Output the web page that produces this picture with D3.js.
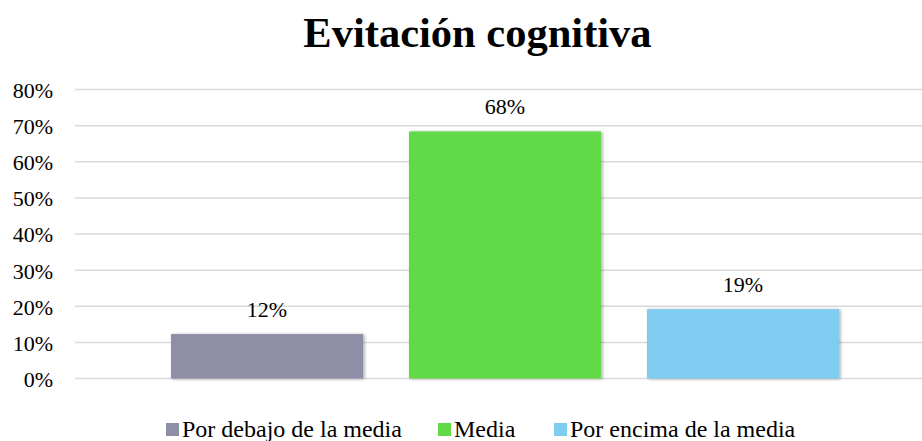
<!DOCTYPE html>
<html>
<head>
<meta charset="utf-8">
<script src="https://cdn.jsdelivr.net/npm/d3@7"></script>
<style>
  html, body { margin: 0; padding: 0; background: #fff; }
  svg { display: block; }
  text { font-family: "Liberation Serif", "Times New Roman", serif; fill: #000; }
</style>
</head>
<body>
<script>
const title = "Evitación cognitiva";
const categories = ["Por debajo de la media", "Media", "Por encima de la media"];
const values = [0.123, 0.684, 0.192];
const colors = ["#8E8EA6", "#62DA47", "#7ECDF1"];
const yTicks = [0, 0.1, 0.2, 0.3, 0.4, 0.5, 0.6, 0.7, 0.8];

const W = 922, H = 441;
const svg = d3.select("body").append("svg").attr("width", W).attr("height", H);

const defs = svg.append("defs");
const f = defs.append("filter").attr("id", "shadow").attr("x", "-10%").attr("y", "-10%").attr("width", "130%").attr("height", "130%");
f.append("feDropShadow").attr("dx", 1.5).attr("dy", 0.5).attr("stdDeviation", 1.5).attr("flood-color", "#000").attr("flood-opacity", 0.35);

const y = d3.scaleLinear().domain([0, 0.8]).range([378.5, 89.5]);
const x = d3.scaleBand().domain(categories).range([148, 862]).paddingInner(0.193).paddingOuter(0.0966);

// title
svg.append("text").attr("x", 477.5).attr("y", 47).attr("text-anchor", "middle")
  .style("font-size", "42.5px").style("font-weight", "bold").text(title);

// y axis labels
const yAxis = d3.axisLeft(y).tickValues(yTicks).tickSize(0).tickPadding(0).tickFormat(d3.format(".0%"));
const gAxis = svg.append("g").attr("transform", "translate(53,0)").call(yAxis)
  .attr("font-family", null).attr("font-size", null);
gAxis.select(".domain").remove();
gAxis.selectAll("text").style("font-size", "22px").attr("dy", "0.36em").attr("x", 0)
  .style("font-family", "'Liberation Serif', serif").attr("fill", "#000");

// gridlines
svg.append("g").selectAll("line").data(yTicks).join("line")
  .attr("x1", 75).attr("x2", W)
  .attr("y1", d => y(d)).attr("y2", d => y(d))
  .attr("stroke", "#D9D9D9").attr("stroke-width", 1.5);

// bars
svg.append("g").selectAll("rect").data(values).join("rect")
  .attr("x", (d, i) => x(categories[i]))
  .attr("width", x.bandwidth())
  .attr("y", d => y(d))
  .attr("height", d => y(0) - y(d))
  .attr("fill", (d, i) => colors[i])
  .attr("filter", "url(#shadow)");

// labels
svg.append("g").selectAll("text").data(values).join("text")
  .attr("x", (d, i) => x(categories[i]) + x.bandwidth() / 2)
  .attr("y", d => y(d) - 17)
  .attr("text-anchor", "middle")
  .style("font-size", "22px")
  .text(d => d3.format(".0%")(d));

// legend
const legendX = [166, 438, 554];
const lg = svg.append("g").selectAll("g").data(categories).join("g")
  .attr("transform", (d, i) => `translate(${legendX[i]},0)`);
lg.append("rect").attr("x", 0).attr("y", 423).attr("width", 13).attr("height", 13)
  .attr("fill", (d, i) => colors[i]);
lg.append("text").attr("x", 16).attr("y", 436.5).style("font-size", "24px").text(d => d);
</script>
</body>
</html>
